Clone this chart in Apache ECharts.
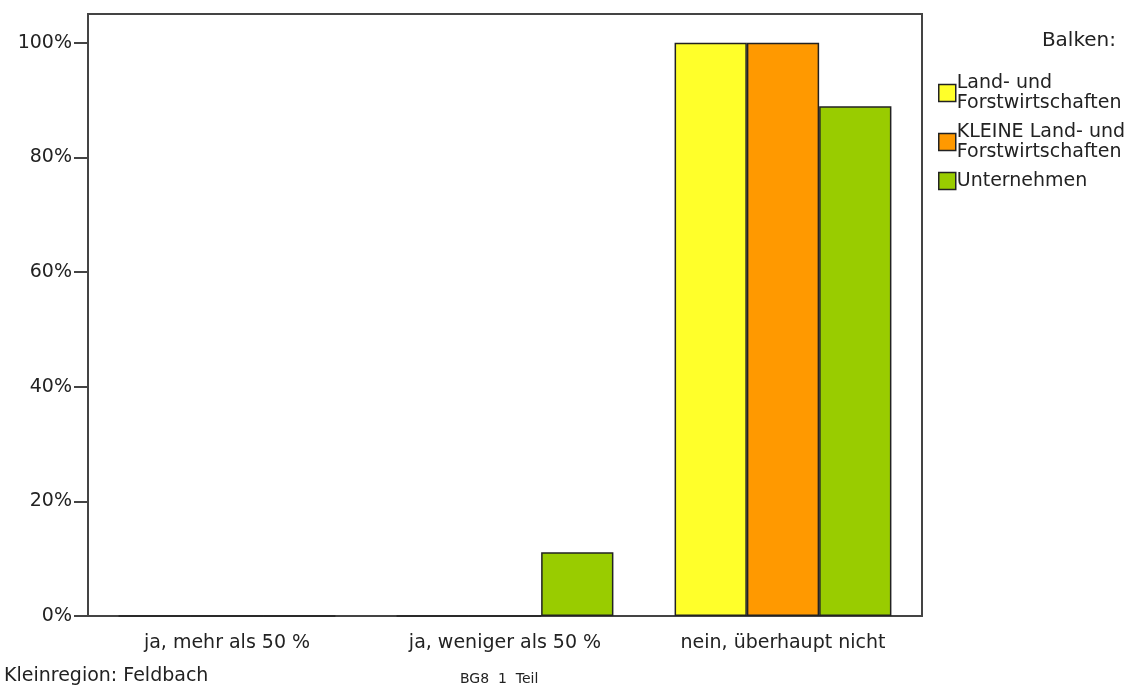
<!DOCTYPE html>
<html>
<head>
<meta charset="utf-8">
<script src="https://cdn.jsdelivr.net/npm/echarts@6/dist/echarts.min.js"></script>
<style>
html,body{margin:0;padding:0;background:#fff;}
#chart{width:1137px;height:688px;}
</style>
</head>
<body>
<div id="chart"></div>
<script>
const categories = ['ja, mehr als 50 %', 'ja, weniger als 50 %', 'nein, überhaupt nicht'];
const seriesNames = ['Land- und\nForstwirtschaften', 'KLEINE Land- und\nForstwirtschaften', 'Unternehmen'];
const landForst = [0, 0, 100];
const kleineLandForst = [0, 0, 100];
const unternehmen = [0, 11.1, 88.9];
const yTicks = [0, 20, 40, 60, 80, 100];
const colors = ['#FFFF2A', '#FF9900', '#99CC00'];

const FONT = "'DejaVu Sans', Verdana, sans-serif";
const chart = echarts.init(document.getElementById('chart'));
const values = [landForst, kleineLandForst, unternehmen];

chart.setOption({
  animation: false,
  backgroundColor: '#fff',
  textStyle: { fontFamily: FONT },
  grid: { left: 88, top: 14, right: 215, bottom: 72, show: true, borderColor: '#444', borderWidth: 2, backgroundColor: 'transparent' },
  legend: {
    orient: 'vertical',
    left: 933,
    top: 68,
    itemWidth: 17,
    itemHeight: 17,
    itemGap: 9,
    icon: 'rect',
    selectedMode: false,
    textStyle: { fontFamily: FONT, fontSize: 19, color: '#222', lineHeight: 20, padding: [0, 0, 0, -4] },
    itemStyle: { borderColor: '#222', borderWidth: 1.5 },
    data: seriesNames
  },
  xAxis: {
    type: 'category',
    data: categories,
    axisLine: { lineStyle: { color: '#444', width: 2 } },
    axisTick: { alignWithLabel: true, length: 13, lineStyle: { color: '#444', width: 2 } },
    axisLabel: { fontFamily: FONT, fontSize: 19, color: '#222', margin: 18 },
    splitLine: { show: false }
  },
  yAxis: {
    type: 'value',
    min: 0,
    max: 105,
    interval: 20,
    axisLine: { show: true, lineStyle: { color: '#444', width: 2 } },
    axisTick: { show: true, length: 14, customValues: yTicks, lineStyle: { color: '#444', width: 2 } },
    axisLabel: {
      fontFamily: FONT, fontSize: 19, color: '#222', margin: 16,
      customValues: yTicks,
      formatter: v => yTicks.includes(v) ? v + '%' : ''
    },
    splitLine: { show: false }
  },
  series: values.map((d, i) => ({
    name: seriesNames[i],
    type: 'bar',
    data: d,
    barGap: '0%',
    barCategoryGap: '22%',
    itemStyle: { color: colors[i], borderColor: '#222', borderWidth: 1.5 }
  })),
  graphic: [
    { type: 'text', right: 21, top: 31, style: { text: 'Balken:', font: "20px " + FONT, fill: '#222' } },
    { type: 'text', left: 4, top: 667, style: { text: 'Kleinregion: Feldbach', font: "19px " + FONT, fill: '#222' } },
    { type: 'text', left: 460, top: 672, style: { text: 'BG8  1  Teil', font: "14px " + FONT, fill: '#222' } }
  ]
});
</script>
</body>
</html>
